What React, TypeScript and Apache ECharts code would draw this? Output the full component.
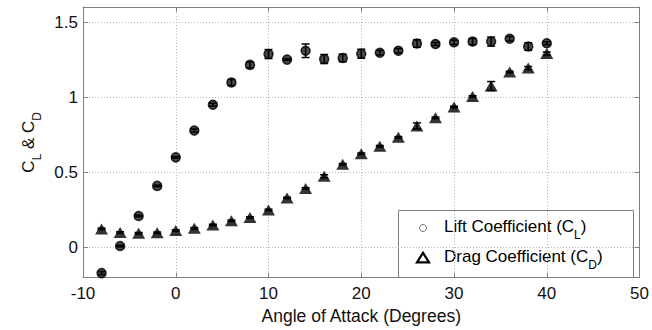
import { useEffect, useRef } from "react";
import * as echarts from "echarts";

// Angle of attack (degrees) and the measured coefficients with their spread
const angles = [-8, -6, -4, -2, 0, 2, 4, 6, 8, 10, 12, 14, 16, 18, 20, 22, 24, 26, 28, 30, 32, 34, 36, 38, 40];
const liftCoeff = [-0.17, 0.01, 0.21, 0.41, 0.6, 0.778, 0.95, 1.098, 1.215, 1.287, 1.25, 1.309, 1.254, 1.261, 1.289, 1.296, 1.309, 1.357, 1.354, 1.365, 1.37, 1.37, 1.389, 1.337, 1.359];
const liftErr = [0.01, 0.005, 0.005, 0.005, 0.005, 0.01, 0.01, 0.02, 0.02, 0.03, 0.005, 0.045, 0.03, 0.025, 0.03, 0.015, 0.015, 0.025, 0.01, 0.015, 0.02, 0.03, 0.015, 0.025, 0.01];
const dragCoeff = [0.124, 0.1, 0.095, 0.098, 0.113, 0.128, 0.15, 0.178, 0.2, 0.25, 0.33, 0.393, 0.474, 0.554, 0.624, 0.674, 0.733, 0.809, 0.863, 0.935, 1.005, 1.074, 1.168, 1.194, 1.29];
const dragErr = [0.005, 0.005, 0.005, 0.005, 0.005, 0.005, 0.005, 0.005, 0.005, 0.005, 0.005, 0.005, 0.01, 0.005, 0.005, 0.005, 0.005, 0.02, 0.005, 0.005, 0.005, 0.03, 0.005, 0.01, 0.01];

const xRange = [-10, 50];
const xStep = 10;
const yRange = [-0.2, 1.6];
const yTicks = [0, 0.5, 1, 1.5];

const FONT = "'Liberation Sans', Arial, Helvetica, sans-serif";
const AXIS_GRAY = "#808080";
const GRID_GRAY = "#b8b8b8";

const subRich = {
  n: { fontSize: 17, lineHeight: 17, verticalAlign: "top", fontFamily: FONT, color: "#111" },
  s: { fontSize: 12, lineHeight: 12, verticalAlign: "top", padding: [11, 0, 0, 0], fontFamily: FONT, color: "#111" },
};

function errorBars(values: number[], errs: number[]) {
  return angles.map((a, i) => [a, values[i], errs[i]]);
}

function renderErrorBar(_params: any, api: any) {
  const x = api.value(0);
  const y = api.value(1);
  const e = api.value(2);
  const top = api.coord([x, y + e]);
  const bot = api.coord([x, y - e]);
  const w = 4;
  const style = { stroke: "#000", lineWidth: 1.5 };
  return {
    type: "group",
    children: [
      { type: "line", shape: { x1: top[0], y1: top[1], x2: bot[0], y2: bot[1] }, style },
      { type: "line", shape: { x1: top[0] - w, y1: top[1], x2: top[0] + w, y2: top[1] }, style },
      { type: "line", shape: { x1: bot[0] - w, y1: bot[1], x2: bot[0] + w, y2: bot[1] }, style },
    ],
  };
}

export default function App() {
  const ref = useRef<HTMLDivElement>(null);

  useEffect(() => {
    if (!ref.current) return;
    const chart = echarts.init(ref.current, undefined, { renderer: "svg" });

    const tickStyle = { show: true, inside: true, length: 5, lineStyle: { color: AXIS_GRAY, width: 1 } };
    const lineStyle = { show: true, onZero: false, lineStyle: { color: AXIS_GRAY, width: 1 } };

    chart.setOption({
      animation: false,
      backgroundColor: "#fff",
      textStyle: { fontFamily: FONT },
      grid: { left: 83, right: 12, top: 7, bottom: 47, containLabel: false },
      xAxis: [
        {
          type: "value",
          position: "bottom",
          min: xRange[0],
          max: xRange[1],
          interval: xStep,
          axisLine: lineStyle,
          axisTick: tickStyle,
          axisLabel: { color: "#111", fontSize: 17, fontFamily: FONT, margin: 7.5 },
          splitLine: { show: true, lineStyle: { color: GRID_GRAY, type: [1, 2], width: 1 } },
          name: "Angle of Attack (Degrees)",
          nameLocation: "middle",
          nameGap: 28,
          nameTextStyle: { color: "#111", fontSize: 17.5, fontFamily: FONT, verticalAlign: "top" },
        },
        {
          type: "value",
          position: "top",
          min: xRange[0],
          max: xRange[1],
          interval: xStep,
          axisLine: lineStyle,
          axisTick: tickStyle,
          axisLabel: { show: false },
          splitLine: { show: false },
        },
      ],
      yAxis: [
        {
          type: "value",
          position: "left",
          min: yRange[0],
          max: yRange[1],
          axisLine: lineStyle,
          axisTick: { ...tickStyle, customValues: yTicks },
          axisLabel: { color: "#111", fontSize: 17, fontFamily: FONT, margin: 5, customValues: yTicks },
          splitLine: { show: true, lineStyle: { color: GRID_GRAY, type: [1, 2], width: 1 } },
          name: "{n|C}{s|L}{n| & C}{s|D}",
          nameLocation: "middle",
          nameGap: 39.5,
          nameRotate: 90,
          nameTextStyle: { rich: subRich },
        },
        {
          type: "value",
          position: "right",
          min: yRange[0],
          max: yRange[1],
          axisLine: lineStyle,
          axisTick: { ...tickStyle, customValues: yTicks },
          axisLabel: { show: false },
          splitLine: { show: false },
        },
      ],
      series: [
        {
          name: "Lift Coefficient (CL)",
          type: "scatter",
          data: angles.map((a, i) => [a, liftCoeff[i]]),
          symbol: "circle",
          symbolSize: 9,
          itemStyle: { color: "#1c1c1c", borderColor: "#000", borderWidth: 1.5 },
          z: 3,
        },
        {
          name: "Drag Coefficient (CD)",
          type: "scatter",
          data: angles.map((a, i) => [a, dragCoeff[i]]),
          symbol: "triangle",
          symbolSize: [13, 11],
          itemStyle: { color: "#000" },
          z: 3,
        },
        {
          type: "custom",
          data: errorBars(liftCoeff, liftErr),
          encode: { x: 0, y: 1 },
          renderItem: renderErrorBar,
          z: 4,
          silent: true,
        },
        {
          type: "custom",
          data: errorBars(dragCoeff, dragErr),
          encode: { x: 0, y: 1 },
          renderItem: renderErrorBar,
          z: 4,
          silent: true,
        },
      ],
      graphic: [
        {
          type: "group",
          z: 100,
          children: [
            {
              type: "rect",
              shape: { x: 398.5, y: 210.5, width: 235, height: 67 },
              style: { fill: "#fff", stroke: AXIS_GRAY, lineWidth: 1 },
            },
            {
              type: "circle",
              shape: { cx: 423, cy: 228, r: 3.5 },
              style: { fill: "#fff", stroke: "#777", lineWidth: 1 },
            },
            {
              type: "polygon",
              shape: { points: [[423, 252.8], [429, 262.3], [417, 262.3]] },
              style: { fill: "#fff", stroke: "#000", lineWidth: 2.2 },
            },
            {
              type: "text",
              x: 444,
              y: 217.5,
              style: { text: "{n|Lift Coefficient (C}{s|L}{n|)}", rich: subRich, align: "left", verticalAlign: "top" },
            },
            {
              type: "text",
              x: 444,
              y: 248,
              style: { text: "{n|Drag Coefficient (C}{s|D}{n|)}", rich: subRich, align: "left", verticalAlign: "top" },
            },
          ],
        },
      ],
    });

    return () => chart.dispose();
  }, []);

  return (
    <div
      ref={ref}
      style={{ position: "absolute", left: 0, top: 0, width: 652, height: 330, background: "#fff" }}
    />
  );
}
